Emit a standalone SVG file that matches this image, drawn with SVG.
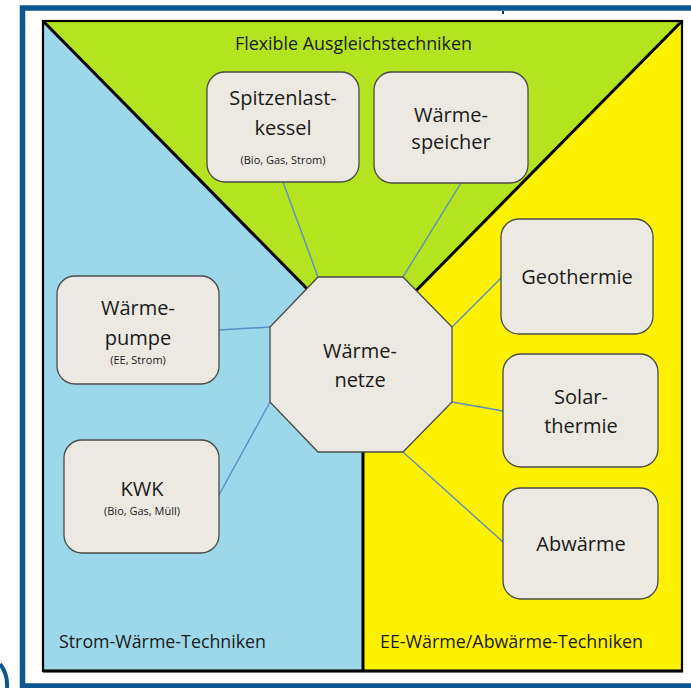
<svg xmlns="http://www.w3.org/2000/svg" width="691" height="688" viewBox="0 0 691 688">
<style>
.box{fill:#ece9e2;stroke:#4a4a4a;stroke-width:1.3}
.t{font-family:"Open Sans","Noto Sans","DejaVu Sans",sans-serif;fill:#1a1a1a;text-anchor:middle}
.big{font-size:20px}
.small{font-size:11px}
.lbl{font-family:"Open Sans","Noto Sans","DejaVu Sans",sans-serif;fill:#1a1a1a;font-size:17.5px}
.div{stroke:#000;stroke-width:3;fill:none}
.con{stroke:#5b8ec4;stroke-width:1.4;fill:none}
</style>
<rect width="691" height="688" fill="#ffffff"/>
<!-- outer blue frame -->
<rect x="22.5" y="8" width="690" height="678" fill="none" stroke="#0b5591" stroke-width="5.5"/>
<rect x="502" y="11" width="2" height="3" fill="#0b3a5e"/>
<path d="M0,664 Q8,674 7,688" fill="none" stroke="#0b5591" stroke-width="4"/>
<!-- regions -->
<g id="regions">
<polygon points="43,21 682,21 362.5,345" fill="#b3e41f"/>
<polygon points="43,21 362.5,345 363,671 43,671" fill="#9cd8ea"/>
<polygon points="682,21 362.5,345 363,671 682,671" fill="#fff200"/>
<line class="div" x1="43" y1="21" x2="362.5" y2="345"/>
<line class="div" x1="682" y1="21" x2="362.5" y2="345"/>
<line class="div" x1="363" y1="345" x2="363" y2="671"/>
<rect x="43" y="21" width="639" height="650" fill="none" stroke="#000" stroke-width="2.2"/>
<line x1="43" y1="671" x2="683" y2="671" stroke="#000" stroke-width="3"/>
</g>
<text class="lbl" x="235" y="50" textLength="237" lengthAdjust="spacingAndGlyphs">Flexible Ausgleichstechniken</text>
<text class="lbl" x="59" y="648" textLength="207" lengthAdjust="spacingAndGlyphs">Strom-Wärme-Techniken</text>
<text class="lbl" x="380" y="648" textLength="263" lengthAdjust="spacingAndGlyphs">EE-Wärme/Abwärme-Techniken</text>
<!-- connectors -->
<g id="connectors">
<line class="con" x1="283" y1="182" x2="318" y2="277"/>
<line class="con" x1="461" y1="183" x2="403" y2="277"/>
<line class="con" x1="501" y1="278" x2="452" y2="327"/>
<line class="con" x1="452" y1="402" x2="503" y2="411"/>
<line class="con" x1="403" y1="452" x2="503" y2="542"/>
<line class="con" x1="219" y1="330" x2="270" y2="327"/>
<line class="con" x1="219" y1="495" x2="270" y2="402"/>
</g>
<!-- nodes -->
<g id="waermenetze">
<polygon class="box" points="318,277 403,277 452,327 452,402 403,452 318,452 270,402 270,327"/>
<text class="t big" x="360" y="358">Wärme-</text>
<text class="t big" x="360" y="387">netze</text>
</g>
<g id="spitzenlastkessel">
<rect class="box" x="207" y="72" width="152" height="110" rx="18"/>
<text class="t big" x="283" y="105">Spitzenlast-</text>
<text class="t big" x="283" y="135">kessel</text>
<text class="t small" x="283" y="164">(Bio, Gas, Strom)</text>
</g>
<g id="waermespeicher">
<rect class="box" x="374" y="72" width="154" height="111" rx="18"/>
<text class="t big" x="451" y="122">Wärme-</text>
<text class="t big" x="451" y="149">speicher</text>
</g>
<g id="geothermie">
<rect class="box" x="501" y="219" width="152" height="115" rx="18"/>
<text class="t big" x="577" y="284">Geothermie</text>
</g>
<g id="solarthermie">
<rect class="box" x="503" y="354" width="155" height="113" rx="18"/>
<text class="t big" x="581" y="404">Solar-</text>
<text class="t big" x="581" y="433">thermie</text>
</g>
<g id="abwaerme">
<rect class="box" x="503" y="488" width="155" height="111" rx="18"/>
<text class="t big" x="581" y="551">Abwärme</text>
</g>
<g id="waermepumpe">
<rect class="box" x="57" y="276" width="162" height="108" rx="18"/>
<text class="t big" x="138" y="315">Wärme-</text>
<text class="t big" x="138" y="345">pumpe</text>
<text class="t small" x="138" y="364">(EE, Strom)</text>
</g>
<g id="kwk">
<rect class="box" x="64" y="440" width="155" height="113" rx="18"/>
<text class="t big" x="142" y="496">KWK</text>
<text class="t small" x="142" y="515">(Bio, Gas, Müll)</text>
</g>
</svg>
